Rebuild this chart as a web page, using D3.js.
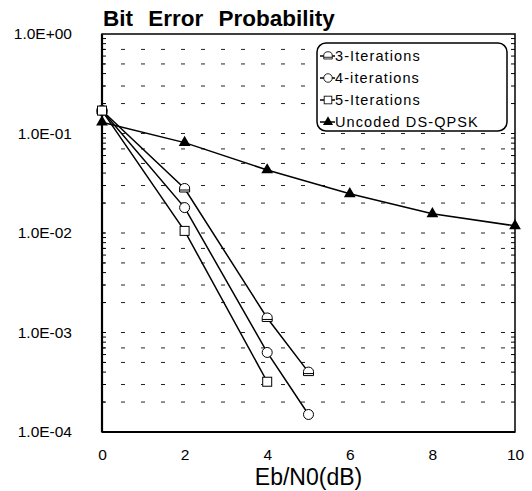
<!DOCTYPE html>
<html>
<head>
<meta charset="utf-8">
<script src="https://cdn.jsdelivr.net/npm/d3@7"></script>
<style>
  body { margin: 0; background: #fff; }
  svg { font-family: "Liberation Sans", Arial, sans-serif; }
</style>
</head>
<body>
<div id="chart"></div>
<script>
// Eb/N0 values (dB)
const xIter = [0, 2, 4, 5];
const xIter5 = [0, 2, 4];
const xUncoded = [0, 2, 4, 6, 8, 10];

// bit error probability per series
const iter3 = [0.17, 0.028, 1.4e-3, 4.0e-4];
const iter4 = [0.17, 0.018, 6.3e-4, 1.5e-4];
const iter5 = [0.17, 0.0105, 3.2e-4];
const uncoded = [0.13, 0.081, 0.043, 0.0248, 0.0156, 0.0118];

const seriesNames = ['3-Iterations', '4-iterations', '5-Iterations', 'Uncoded DS-QPSK'];
const xTicks = [0, 2, 4, 6, 8, 10];
const yTicks = [1, 1e-1, 1e-2, 1e-3, 1e-4];
const gridFactors = [1, 2, 3, 5, 7];

const width = 532, height = 491;
const margin = { top: 34, right: 17, bottom: 59, left: 102 };
const innerW = width - margin.left - margin.right;
const innerH = height - margin.top - margin.bottom;

const svg = d3.select('#chart')
  .append('svg')
  .attr('width', width)
  .attr('height', height);

const g = svg.append('g').attr('transform', `translate(${margin.left},${margin.top})`);

const x = d3.scaleLinear().domain([0, 10]).range([0, innerW]);
const y = d3.scaleLog().domain([1e-4, 1]).range([innerH, 0]);

// dashed horizontal grid
const gridVals = [];
[1e-4, 1e-3, 1e-2, 1e-1].forEach(dec => gridFactors.forEach(k => gridVals.push(k * dec)));
g.append('g')
  .selectAll('line')
  .data(gridVals.filter(v => v > 1e-4 && v < 1))
  .join('line')
  .attr('x1', 0)
  .attr('x2', innerW)
  .attr('y1', d => y(d))
  .attr('y2', d => y(d))
  .attr('stroke', '#222')
  .attr('stroke-width', 1)
  .attr('stroke-dasharray', '4,16')
  .attr('stroke-dashoffset', -19);

// small inner ticks on left and right edges
const minor = [];
[1e-4, 1e-3, 1e-2, 1e-1].forEach(dec => d3.range(1, 10).forEach(k => minor.push(k * dec)));
[0, innerW].forEach((xp, i) => {
  g.append('g')
    .selectAll('line')
    .data(minor.filter(v => v > 1e-4))
    .join('line')
    .attr('x1', xp)
    .attr('x2', i === 0 ? xp + 4 : xp - 4)
    .attr('y1', d => y(d))
    .attr('y2', d => y(d))
    .attr('stroke', '#000')
    .attr('stroke-width', 1);
});

// frame
g.append('rect')
  .attr('width', innerW)
  .attr('height', innerH)
  .attr('fill', 'none')
  .attr('stroke', '#000')
  .attr('stroke-width', 1.5);
g.append('line').attr('x1', 0).attr('x2', 0).attr('y1', 0).attr('y2', innerH)
  .attr('stroke', '#000').attr('stroke-width', 2.2);
g.append('line').attr('x1', 0).attr('x2', innerW).attr('y1', innerH).attr('y2', innerH)
  .attr('stroke', '#000').attr('stroke-width', 2.2);

// axes
const fmtE = d => {
  const e = Math.round(Math.log10(d));
  const s = e < 0 ? '-' : '+';
  return `1.0E${s}${String(Math.abs(e)).padStart(2, '0')}`;
};

const yAxis = g.append('g')
  .call(d3.axisLeft(y).tickValues(yTicks).tickFormat(fmtE).tickSize(0).tickPadding(30));
yAxis.select('.domain').remove();
yAxis.selectAll('text').attr('font-size', 15.5).attr('fill', '#000')
  .style('font-family', '"Liberation Sans", Arial, sans-serif');

const xAxis = g.append('g')
  .attr('transform', `translate(0,${innerH})`)
  .call(d3.axisBottom(x).tickValues(xTicks).tickSize(0).tickPadding(17));
xAxis.select('.domain').remove();
xAxis.selectAll('text').attr('font-size', 15.5).attr('fill', '#000')
  .style('font-family', '"Liberation Sans", Arial, sans-serif');

// titles
svg.append('text')
  .attr('x', 103)
  .attr('y', 26)
  .attr('font-size', 22.5)
  .attr('font-weight', 700)
  .attr('word-spacing', 9)
  .text('Bit Error Probability');

svg.append('text')
  .attr('x', margin.left + innerW / 2)
  .attr('y', 485)
  .attr('text-anchor', 'middle')
  .attr('font-size', 23)
  .text('Eb/N0(dB)');

// markers
const domePath = 'M-5,3.5 L-5,-0.5 A5,4.5 0 0 1 5,-0.5 L5,3.5 Z M-5,1.5 L5,1.5';
const markers = [
  sel => sel.append('path').attr('d', domePath).attr('fill', '#fff').attr('stroke', '#000').attr('stroke-width', 1),
  sel => sel.append('circle').attr('r', 5).attr('fill', '#fff').attr('stroke', '#000').attr('stroke-width', 1),
  sel => sel.append('rect').attr('x', -4.5).attr('y', -4.5).attr('width', 9).attr('height', 9).attr('fill', '#fff').attr('stroke', '#000').attr('stroke-width', 1),
  sel => sel.append('path').attr('d', d3.symbol(d3.symbolTriangle, 60)()).attr('fill', '#000')
];

const series = [
  { xs: xIter, ys: iter3 },
  { xs: xIter, ys: iter4 },
  { xs: xIter5, ys: iter5 },
  { xs: xUncoded, ys: uncoded }
];

const line = d3.line().x(d => x(d[0])).y(d => y(d[1]));

series.forEach(s => {
  const pts = s.xs.map((v, i) => [v, s.ys[i]]);
  g.append('path')
    .datum(pts)
    .attr('fill', 'none')
    .attr('stroke', '#000')
    .attr('stroke-width', 1.5)
    .attr('d', line);
});

series.forEach((s, si) => {
  s.xs.forEach((v, i) => {
    const m = g.append('g').attr('transform', `translate(${x(v)},${y(s.ys[i])})`);
    markers[si](m);
  });
});

// legend
const legend = svg.append('g').attr('transform', 'translate(317,43)');
legend.append('rect')
  .attr('width', 190)
  .attr('height', 88)
  .attr('rx', 9)
  .attr('fill', '#fff')
  .attr('stroke', '#000')
  .attr('stroke-width', 1.5);

seriesNames.forEach((name, i) => {
  const row = legend.append('g').attr('transform', `translate(0,${13 + i * 22})`);
  row.append('line').attr('x1', 3).attr('x2', 18).attr('stroke', '#000').attr('stroke-width', 1.5);
  const m = row.append('g').attr('transform', 'translate(11,0) scale(0.85)');
  markers[i](m);
  row.append('text')
    .attr('x', 18)
    .attr('y', 5)
    .attr('font-size', 14.5)
    .attr('letter-spacing', 1.1)
    .text(name);
});
</script>
</body>
</html>
